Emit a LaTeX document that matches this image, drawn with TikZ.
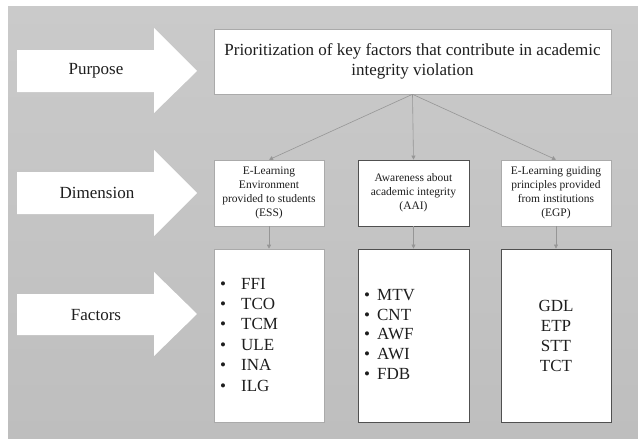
\documentclass[tikz,border=0pt]{standalone}
\usepackage{fontspec}
\setmainfont{Liberation Serif}
\newfontfamily\tnr{Liberation Serif}
\usetikzlibrary{arrows.meta}
\definecolor{bgtop}{RGB}{202,202,202}
\definecolor{bgbot}{RGB}{190,190,190}
\definecolor{lightedge}{RGB}{170,170,170}
\definecolor{darkedge}{RGB}{80,80,80}
\definecolor{linkcol}{RGB}{150,150,150}
\definecolor{txt}{RGB}{30,30,30}
\tikzset{
  bigtext/.style={font=\tnr\fontsize{17}{20}\selectfont, text=txt},
  smalltext/.style={font=\tnr\fontsize{11.5}{14}\selectfont, text=txt},
  boxbase/.style={fill=white, inner sep=0pt, align=center},
  lightbox/.style={boxbase, draw=lightedge, line width=0.6pt},
  darkbox/.style={boxbase, draw=darkedge, line width=0.9pt},
  dimsize/.style={minimum height=66pt},
  facsize/.style={minimum height=173pt},
  link/.style={draw=linkcol, line width=0.6pt, -{Triangle[length=4pt,width=4pt]}},
  blockarrow/.style={fill=white, draw=none},
}
\begin{document}
\begin{tikzpicture}[x=1pt, y=-1pt]
\useasboundingbox (0,0) rectangle (638,439);
\shade[top color=bgtop, bottom color=bgbot] (8,6) rectangle (638,439);
% block arrows
\fill[blockarrow] (17,50) -- (154,50) -- (154,28) -- (197,71) -- (154,113) -- (154,92) -- (17,92) -- cycle;
\fill[blockarrow] (17,172) -- (154,172) -- (154,150) -- (197,193) -- (154,236) -- (154,214) -- (17,214) -- cycle;
\fill[blockarrow] (17,294) -- (154,294) -- (154,272) -- (197,314) -- (154,356) -- (154,335) -- (17,335) -- cycle;
\node[bigtext] (lpurpose) at (96,71) {Purpose};
\node[bigtext] (ldimension) at (97,193) {Dimension};
\node[bigtext] (lfactors) at (96,315) {Factors};
% top box
\node[lightbox, bigtext, minimum width=397pt, minimum height=65pt] (top) at (412.5,61.5)
  {Prioritization of key factors that contribute in academic\\ integrity violation};
% dimension boxes
\node[lightbox, dimsize, smalltext, minimum width=110pt] (dess) at (269,193)
  {E-Learning\\ Environment\\ provided to students\\ (ESS)};
\node[darkbox, dimsize, smalltext, minimum width=111pt] (daai) at (413.5,193)
  {Awareness about\\ academic integrity\\ (AAI)};
\node[lightbox, dimsize, smalltext, minimum width=110pt] (degp) at (556,193)
  {E-Learning guiding\\ principles provided\\ from institutions\\ (EGP)};
% factor boxes
\node[lightbox, facsize, minimum width=110pt] (fess) at (269,335.5) {};
\node[darkbox, facsize, minimum width=111pt] (faai) at (413.5,335.5) {};
\node[darkbox, facsize, minimum width=110pt] (fegp) at (556,335.5) {};
% factor lists
\node[bigtext, anchor=west, inner sep=0pt, align=left] (less) at (220,336)
  {\tnr\fontsize{17}{20.4}\selectfont\begin{tabular}{@{}l@{\hspace{15pt}}l@{}}
  •&FFI\\ •&TCO\\ •&TCM\\ •&ULE\\ •&INA\\ •&ILG\end{tabular}};
\node[bigtext, anchor=west, inner sep=0pt, align=left] (laai) at (364,336)
  {\tnr\fontsize{17}{19.6}\selectfont\begin{tabular}{@{}l@{\hspace{7pt}}l@{}}
  •&MTV\\ •&CNT\\ •&AWF\\ •&AWI\\ •&FDB\end{tabular}};
\node[bigtext, align=center, inner sep=0pt] (legp) at (556,336)
  {GDL\\ ETP\\ STT\\ TCT};
% connectors
\draw[link] (top.south) -- (dess.north);
\draw[link] (top.south) -- (daai.north);
\draw[link] (top.south) -- (degp.north);
\draw[link] (dess.south) -- (fess.north);
\draw[link] (daai.south) -- (faai.north);
\draw[link] (degp.south) -- (fegp.north);
\end{tikzpicture}
\end{document}
